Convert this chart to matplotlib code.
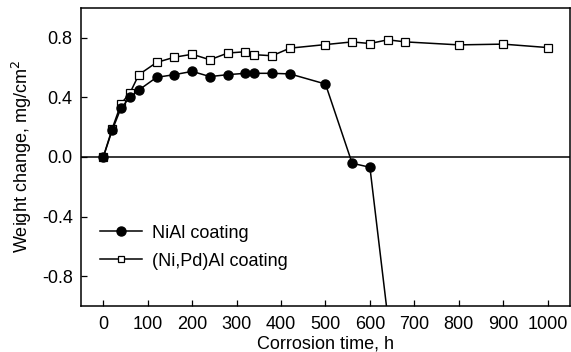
import matplotlib
matplotlib.use("Agg")
from matplotlib import pyplot as plt

plt.rcParams['font.family'] = ['Liberation Sans', 'DejaVu Sans']

# NiAl coating
nial_t = [0, 20, 40, 60, 80, 120, 160, 200, 240, 280, 320, 340, 380, 420, 500, 560, 600, 650]
nial_w = [0.0, 0.18, 0.33, 0.40, 0.45, 0.535, 0.553, 0.575, 0.54, 0.553, 0.562, 0.562, 0.562, 0.558, 0.49, -0.042, -0.069, -1.32]

# (Ni,Pd)Al coating
nipd_t = [0, 20, 40, 60, 80, 120, 160, 200, 240, 280, 320, 340, 380, 420, 500, 560, 600, 640, 680, 800, 900, 1000]
nipd_w = [0.0, 0.19, 0.358, 0.43, 0.553, 0.635, 0.67, 0.69, 0.653, 0.698, 0.707, 0.687, 0.68, 0.731, 0.755, 0.773, 0.762, 0.787, 0.773, 0.753, 0.758, 0.735]

xticks = [0, 100, 200, 300, 400, 500, 600, 700, 800, 900, 1000]
yticks = [-0.8, -0.4, 0.0, 0.4, 0.8]

fig = plt.figure(figsize=(5.71, 3.52), dpi=100)
ax = fig.add_axes([0.142, 0.131, 0.856, 0.846])

ax.axhline(0, color='black', lw=1.1, zorder=1)
ax.plot(nipd_t, nipd_w, color='black', lw=1.1, marker='s', ms=5.5,
        mfc='white', mec='black', mew=0.9, label='(Ni,Pd)Al coating', zorder=2)
ax.plot(nial_t, nial_w, color='black', lw=1.1, marker='o', ms=6.5,
        mfc='black', mec='black', label='NiAl coating', zorder=3)

ax.set_xlim(-50, 1050)
ax.set_ylim(-1.0, 1.0)
ax.set_xticks(xticks)
ax.set_yticks(yticks)
ax.set_yticklabels(['%.1f' % v for v in yticks])
ax.tick_params(direction='in', length=4, labelsize=13, width=0.9)
ax.tick_params(axis='x', pad=7)
ax.tick_params(axis='y', pad=6)
for s in ax.spines.values():
    s.set_linewidth(1.1)

ax.set_xlabel('Corrosion time, h', fontsize=13, labelpad=2)
ax.set_ylabel('Weight change, mg/cm$^2$', fontsize=13, labelpad=6)

h, l = ax.get_legend_handles_labels()
leg = ax.legend(h[::-1], l[::-1], loc='center left', bbox_to_anchor=(0.039, 0.197),
                frameon=False, fontsize=13, handlelength=2.33, handletextpad=0.55,
                labelspacing=0.6, borderpad=0, borderaxespad=0)
leg.legend_handles[1].set_markersize(4.0)

plt.savefig("out.png")
